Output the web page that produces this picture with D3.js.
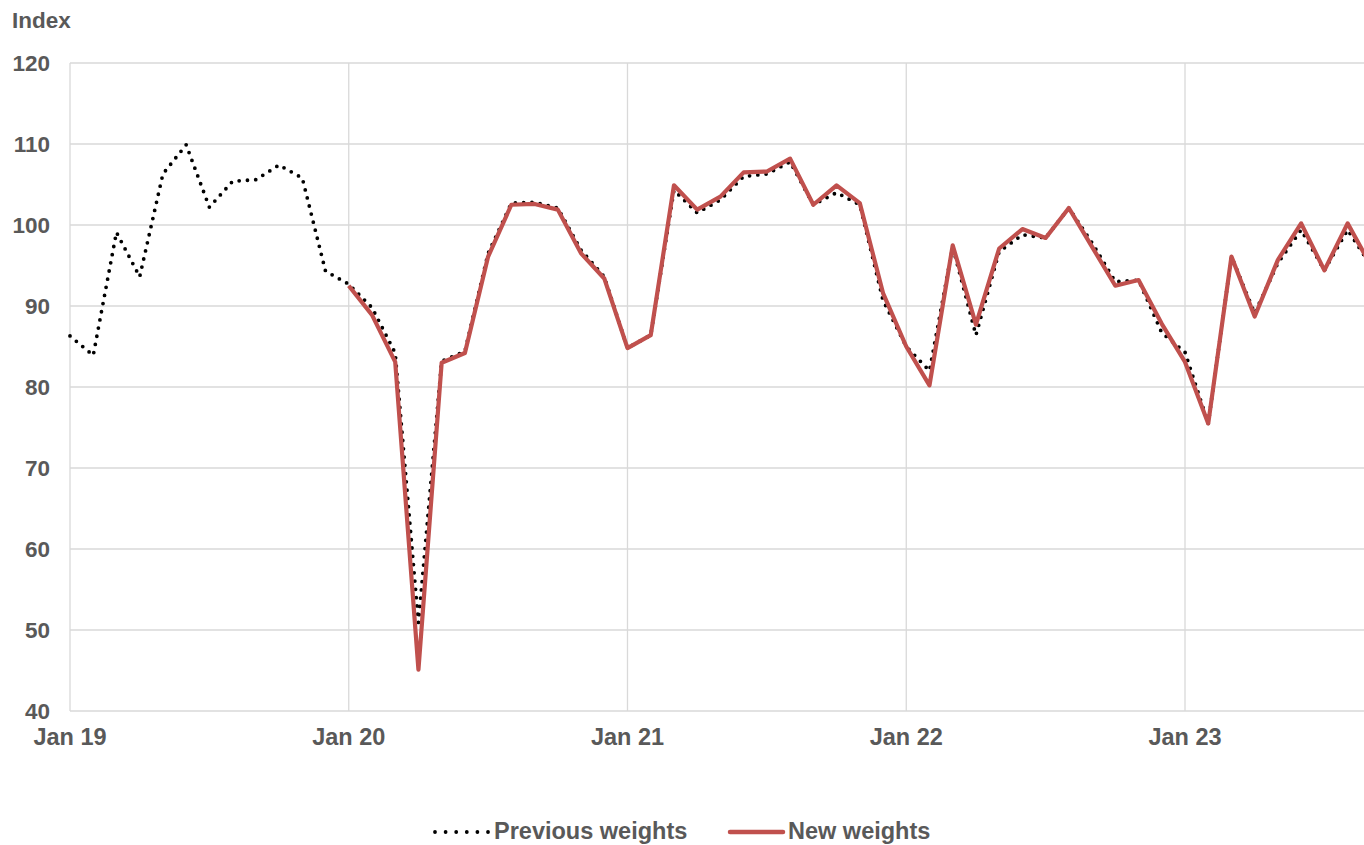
<!DOCTYPE html>
<html>
<head>
<meta charset="utf-8">
<script src="https://cdn.jsdelivr.net/npm/d3@7"></script>
<style>
  html, body { margin: 0; padding: 0; background: #fff; overflow: hidden; }
  svg { display: block; font-family: "Liberation Sans", Arial, sans-serif; }
</style>
</head>
<body>
<svg id="chart" width="1364" height="845"></svg>
<script>
// Month categories (Jan 2019 – Sep 2023)
const months = [
  "2019-01","2019-02","2019-03","2019-04","2019-05","2019-06","2019-07","2019-08","2019-09","2019-10","2019-11","2019-12",
  "2020-01","2020-02","2020-03","2020-04","2020-05","2020-06","2020-07","2020-08","2020-09","2020-10","2020-11","2020-12",
  "2021-01","2021-02","2021-03","2021-04","2021-05","2021-06","2021-07","2021-08","2021-09","2021-10","2021-11","2021-12",
  "2022-01","2022-02","2022-03","2022-04","2022-05","2022-06","2022-07","2022-08","2022-09","2022-10","2022-11","2022-12",
  "2023-01","2023-02","2023-03","2023-04","2023-05","2023-06","2023-07","2023-08","2023-09"
];

// Previous weights index
const previousWeights = [
  86.3, 83.9, 99.1, 93.6, 106.3, 109.9, 102.2, 105.4, 105.6, 107.4, 105.8, 94.3,
  92.7, 89.8, 84.2, 50.9, 83.2, 84.4, 96.5, 102.7, 102.8, 102.1, 96.9, 93.6,
  84.8, 86.4, 104.3, 101.5, 103.1, 106.0, 106.3, 107.8, 102.5, 104.0, 102.5, 90.7,
  85.0, 82.0, 97.3, 86.4, 96.7, 98.8, 98.4, 102.1, 97.8, 93.0, 93.2, 86.7,
  84.3, 75.5, 96.1, 89.1, 95.3, 99.4, 94.4, 99.4, 95.0
];

// New weights index (starts Jan 2020)
const newWeights = [
  null, null, null, null, null, null, null, null, null, null, null, null,
  92.5, 88.9, 83.1, 45.1, 83.0, 84.2, 96.1, 102.5, 102.6, 101.9, 96.5, 93.4,
  84.8, 86.4, 104.9, 101.9, 103.5, 106.5, 106.6, 108.2, 102.5, 104.9, 102.7, 91.6,
  85.0, 80.2, 97.5, 87.7, 97.1, 99.5, 98.4, 102.1, 97.3, 92.5, 93.2, 87.8,
  83.1, 75.5, 96.1, 88.7, 95.7, 100.2, 94.4, 100.2, 95.0
];

const yTicks = [40, 50, 60, 70, 80, 90, 100, 110, 120];
const xTickMonths = ["2019-01","2020-01","2021-01","2022-01","2023-01"];
const xTickLabels = ["Jan 19","Jan 20","Jan 21","Jan 22","Jan 23"];
const seriesNames = ["Previous weights", "New weights"];

const mLeft = 70, mTop = 63, mBottom = 711, plotRight = 1400;
const textColor = "#595959", gridColor = "#d9d9d9";
const redColor = "#C0504D";

const svg = d3.select("#chart");

const monthIndex = m => months.indexOf(m);
const x = d3.scaleLinear().domain([0, 48]).range([mLeft, 1185]);
const y = d3.scaleLinear().domain([40, 120]).range([mBottom, mTop]);

// horizontal gridlines
svg.append("g").selectAll("line").data(yTicks).join("line")
  .attr("x1", mLeft).attr("x2", plotRight)
  .attr("y1", d => y(d)).attr("y2", d => y(d))
  .attr("stroke", gridColor).attr("stroke-width", 1.3);

// vertical gridlines
svg.append("g").selectAll("line").data(xTickMonths).join("line")
  .attr("x1", d => x(monthIndex(d))).attr("x2", d => x(monthIndex(d)))
  .attr("y1", mTop).attr("y2", mBottom)
  .attr("stroke", gridColor).attr("stroke-width", 1.3);

// y tick labels
svg.append("g").selectAll("text").data(yTicks).join("text")
  .attr("x", 50).attr("y", d => y(d)).attr("dy", "0.35em")
  .attr("text-anchor", "end")
  .attr("font-size", 22.5).attr("font-weight", "bold").attr("fill", textColor)
  .text(d => d);

// x tick labels
svg.append("g").selectAll("text").data(xTickMonths).join("text")
  .attr("x", d => x(monthIndex(d))).attr("y", 745)
  .attr("text-anchor", "middle")
  .attr("font-size", 23.5).attr("font-weight", "bold").attr("fill", textColor)
  .text((d, i) => xTickLabels[i]);

// axis title
svg.append("text").attr("x", 12).attr("y", 28)
  .attr("font-size", 22.5).attr("font-weight", "bold").attr("fill", textColor)
  .text("Index");

// lines
const line = d3.line()
  .defined(d => d.v !== null)
  .x(d => x(d.i)).y(d => y(d.v));

const prevData = previousWeights.map((v, i) => ({ i, v }));
const newData = newWeights.map((v, i) => ({ i, v }));

svg.append("path").datum(prevData)
  .attr("d", line)
  .attr("fill", "none").attr("stroke", "#000")
  .attr("stroke-width", 3.8).attr("stroke-linecap", "round")
  .attr("stroke-dasharray", "0 8.3");

svg.append("path").datum(newData)
  .attr("d", line)
  .attr("fill", "none").attr("stroke", redColor)
  .attr("stroke-width", 4.2).attr("stroke-linejoin", "round");

// legend
const lg = svg.append("g");
lg.append("line").attr("x1", 435).attr("x2", 489).attr("y1", 832).attr("y2", 832)
  .attr("stroke", "#000").attr("stroke-width", 3.8).attr("stroke-linecap", "round")
  .attr("stroke-dasharray", "0 10.6");
lg.append("text").attr("x", 494).attr("y", 839)
  .attr("font-size", 23.5).attr("font-weight", "bold").attr("fill", textColor)
  .text(seriesNames[0]);
lg.append("line").attr("x1", 730).attr("x2", 783).attr("y1", 832).attr("y2", 832)
  .attr("stroke", redColor).attr("stroke-width", 4.5).attr("stroke-linecap", "round");
lg.append("text").attr("x", 788).attr("y", 839)
  .attr("font-size", 23.5).attr("font-weight", "bold").attr("fill", textColor)
  .text(seriesNames[1]);
</script>
</body>
</html>
